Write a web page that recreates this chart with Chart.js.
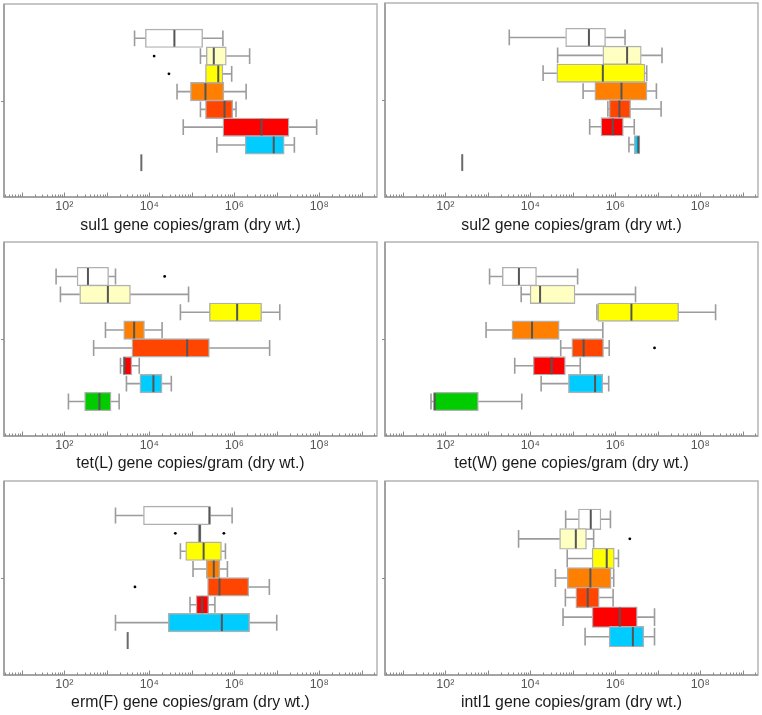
<!DOCTYPE html>
<html><head><meta charset="utf-8">
<script src="https://cdn.jsdelivr.net/npm/chart.js@4.4.1/dist/chart.umd.min.js"></script>
<style>
html,body{margin:0;padding:0;background:#fff;}
#wrap{position:relative;width:762px;height:715px;overflow:hidden;}
.p{position:absolute;width:381px;height:238px;}
canvas{display:block;}
</style></head><body>
<div id="wrap">
<div class="p" style="left:0;top:0"><canvas id="c0" width="381" height="238"></canvas></div>
<div class="p" style="left:381px;top:0"><canvas id="c1" width="381" height="238"></canvas></div>
<div class="p" style="left:0;top:238px"><canvas id="c2" width="381" height="238"></canvas></div>
<div class="p" style="left:381px;top:238px"><canvas id="c3" width="381" height="238"></canvas></div>
<div class="p" style="left:0;top:477px"><canvas id="c4" width="381" height="238"></canvas></div>
<div class="p" style="left:381px;top:477px"><canvas id="c5" width="381" height="238"></canvas></div>
</div>
<script>
// ---------- data ----------
const rowColors = ['#ffffff', '#ffffc2', '#ffff00', '#ff8000', '#ff4500', '#ff0000', '#00ccff', '#00cc00'];
const labeledTicks = [1e2, 1e4, 1e6, 1e8];
const tickLabels = ['10²', '10⁴', '10⁶', '10⁸'];

const sul1Low  = [4.5e3, 1.6e5, 2.1e5, 4.5e4, 1.6e5, 6.3e4, 3.9e5, 6.5e3];
const sul1Q1   = [8.1e3, 2.2e5, 2.1e5, 9.3e4, 2.1e5, 5.4e5, 1.8e6, 6.5e3];
const sul1Med  = [3.9e4, 3.3e5, 4.2e5, 2.1e5, 5.9e5, 4.4e6, 8.5e6, 6.5e3];
const sul1Q3   = [1.8e5, 6.5e5, 5.4e5, 5.7e5, 9.2e5, 1.95e7, 1.5e7, 6.5e3];
const sul1High = [5.4e5, 2.3e6, 8.7e5, 1.9e6, 1.1e6, 8.7e7, 2.6e7, 6.5e3];
const sul1OutX = [1.3e4, 2.9e4];
const sul1OutRow = [2, 3];

const sul2Low  = [3.2e3, 4.4e4, 2.0e4, 1.75e5, 6.7e5, 2.5e5, 2.1e6, 2.5e2];
const sul2Q1   = [6.8e4, 5.1e5, 4.2e4, 3.3e5, 7.2e5, 4.6e5, 2.8e6, 2.5e2];
const sul2Med  = [2.4e5, 1.9e6, 5.1e5, 1.4e6, 1.25e6, 8.7e5, 3.5e6, 2.5e2];
const sul2Q3   = [5.9e5, 4.1e6, 5.0e6, 5.6e6, 2.3e6, 1.55e6, 3.8e6, 2.5e2];
const sul2High = [1.7e6, 1.26e7, 5.5e6, 9.3e6, 1.2e7, 2.8e6, 3.8e6, 2.5e2];
const sul2OutX = [];
const sul2OutRow = [];

const tetLLow  = [64, 81, 5.4e4, 930, 490, 2.1e3, 2.9e3, 125];
const tetLQ1   = [200, 230, 2.6e5, 2.5e3, 3.9e3, 2.4e3, 6.0e3, 300];
const tetLMed  = [360, 1.06e3, 1.17e6, 4.4e3, 7.8e4, 2.6e3, 1.25e4, 670];
const tetLQ3   = [1.1e3, 3.6e3, 4.4e6, 7.7e3, 2.6e5, 3.9e3, 2.0e4, 1.26e3];
const tetLHigh = [1.6e3, 8.4e4, 1.18e7, 2.0e4, 6.8e6, 5.8e3, 3.3e4, 1.95e3];
const tetLOutX = [2.3e4];
const tetLOutRow = [1];

const tetWLow  = [1.1e3, 6.1e3, 3.7e5, 910, 5.2e4, 4.3e3, 1.8e4, 46];
const tetWQ1   = [2.2e3, 9.9e3, 3.9e5, 3.7e3, 9.5e4, 1.17e4, 7.9e4, 53];
const tetWMed  = [5.4e3, 1.7e4, 2.4e6, 1.1e4, 1.8e5, 3.2e4, 3.35e5, 56];
const tetWQ3   = [1.4e4, 1.13e5, 3.1e7, 4.8e4, 5.3e5, 6.7e4, 5.1e5, 600];
const tetWHigh = [1.3e5, 3.0e6, 2.3e8, 5.1e5, 7.2e5, 1.5e5, 7.0e5, 6.3e3];
const tetWOutX = [8.4e6];
const tetWOutRow = [5];

const ermFLow  = [1.6e3, 1.4e5, 5.4e4, 1.07e5, 2.35e5, 9.1e4, 1.6e3, 3.1e3];
const ermFQ1   = [7.3e3, 1.4e5, 7.2e4, 2.2e5, 2.35e5, 1.26e5, 2.8e4, 3.1e3];
const ermFMed  = [2.6e5, 1.55e5, 1.9e5, 3.3e5, 4.5e5, 1.75e5, 5.1e5, 3.1e3];
const ermFQ3   = [2.75e5, 1.66e5, 5.0e5, 4.6e5, 2.2e6, 2.5e5, 2.3e6, 3.1e3];
const ermFHigh = [8.9e5, 1.66e5, 6.2e5, 6.9e5, 6.7e6, 3.5e5, 1.0e7, 3.1e3];
const ermFOutX = [4.1e4, 5.7e5, 4.6e3];
const ermFOutRow = [2, 2, 5];

const intI1Low  = [6.8e4, 5.3e3, 7.4e4, 3.9e4, 6.7e4, 5.9e4, 1.95e5];
const intI1Q1   = [1.36e5, 4.9e4, 2.85e5, 7.4e4, 1.18e5, 2.85e5, 7.2e5];
const intI1Med  = [2.65e5, 1.18e5, 6.3e5, 2.6e5, 2.25e5, 1.28e6, 2.6e6];
const intI1Q3   = [4.6e5, 2.1e5, 9.5e5, 8.0e5, 4.2e5, 3.3e6, 4.7e6];
const intI1High = [7.7e5, 3.1e5, 1.19e6, 9.2e5, 8.9e5, 8.4e6, 8.4e6];
const intI1OutX = [2.2e6];
const intI1OutRow = [2];

// ---------- axis structure ----------
const X_MIN = Math.pow(10, 0.58), X_MAX = Math.pow(10, 9.36);
const xTickValues = [];
for (let e = 0; e <= 9; e++) for (let m = 1; m <= 9; m++) {
  const v = m * Math.pow(10, e);
  if (v >= X_MIN && v <= X_MAX) xTickValues.push(v);
}
const isDecade = v => Math.abs(Math.log10(v) - Math.round(Math.log10(v))) < 1e-9;
const FONT = 'Liberation Sans, Arial, DejaVu Sans, sans-serif';

function makePlugin(d) {
  return {
    id: 'boxplot',
    afterDatasetsDraw(chart) {
      const {ctx, scales: {x, y}} = chart;
      const bars = chart.getDatasetMeta(0).data;
      ctx.save();
      for (let i = 0; i < d.q1.length; i++) {
        const yc = y.getPixelForValue(i + 1);
        const h = bars[i].height;
        const xl = x.getPixelForValue(d.low[i]), x1 = x.getPixelForValue(d.q1[i]);
        const x3 = x.getPixelForValue(d.q3[i]), xh = x.getPixelForValue(d.high[i]);
        const xm = x.getPixelForValue(d.med[i]);
        ctx.strokeStyle = '#9c9c9c'; ctx.lineWidth = 1.6;
        const cap = h * 0.43;
        if (xl < x1 - 0.5) {
          ctx.beginPath(); ctx.moveTo(xl, yc); ctx.lineTo(x1, yc);
          ctx.moveTo(xl, yc - cap); ctx.lineTo(xl, yc + cap); ctx.stroke();
        }
        if (xh > x3 + 0.5) {
          ctx.beginPath(); ctx.moveTo(x3, yc); ctx.lineTo(xh, yc);
          ctx.moveTo(xh, yc - cap); ctx.lineTo(xh, yc + cap); ctx.stroke();
        }
        ctx.strokeStyle = (x3 - x1 < 0.5) ? '#6a6a6a' : '#555';
        ctx.lineWidth = 2;
        ctx.beginPath(); ctx.moveTo(xm, yc - h / 2 + 0.8); ctx.lineTo(xm, yc + h / 2 - 0.8); ctx.stroke();
      }
      ctx.restore();
    },
    afterDraw(chart) {
      const {ctx, chartArea: ca, scales: {x, y}} = chart;
      ctx.save();
      ctx.lineWidth = 1.5;
      ctx.strokeStyle = '#b4b4b4';
      ctx.strokeRect(ca.left, ca.top, ca.right - ca.left, ca.bottom - ca.top);
      ctx.strokeStyle = '#999';
      ctx.beginPath(); ctx.moveTo(ca.left, ca.top); ctx.lineTo(ca.left, ca.bottom); ctx.lineTo(ca.right, ca.bottom); ctx.stroke();
      ctx.lineWidth = 1; ctx.strokeStyle = '#8a8a8a';
      ctx.beginPath();
      x.ticks.forEach(t => {
        const px = Math.round(x.getPixelForValue(t.value)) + 0.5;
        ctx.moveTo(px, ca.bottom);
        ctx.lineTo(px, ca.bottom - (isDecade(t.value) ? 4.5 : 2.5));
      });
      const ym = Math.round(y.getPixelForValue((y.min + y.max) / 2)) + 0.5;
      ctx.moveTo(ca.left - 3, ym); ctx.lineTo(ca.left, ym);
      ctx.stroke();
      ctx.restore();
    }
  };
}

function makePanel(id, title, d, pad) {
  const n = d.q1.length;
  const rowPos = d.q1.map((_, i) => i + 1);
  const boxData = d.q1.map((q, i) => ({y: rowPos[i], x: [q, d.q3[i]]}));
  const outData = d.outX.map((v, i) => ({x: v, y: d.outRow[i]}));
  const yMin = -0.25, yMax = n + 1.25;
  const thick = 0.9 * (pad.bottom - pad.top) / (yMax - yMin);
  new Chart(document.getElementById(id), {
    type: 'bar',
    data: {
      datasets: [
        {type: 'bar', data: boxData, backgroundColor: rowColors.slice(0, n), borderColor: '#b0b0b0',
         borderWidth: 1.4, borderSkipped: false, barThickness: thick},
        {type: 'scatter', data: outData, pointRadius: 1.4, pointBackgroundColor: '#000', pointBorderWidth: 0}
      ]
    },
    options: {
      indexAxis: 'y', responsive: false, animation: false,
      layout: {padding: {left: pad.left, right: pad.right, top: pad.top, bottom: 0}},
      plugins: {legend: {display: false}, tooltip: {enabled: false}},
      scales: {
        x: {
          type: 'logarithmic', min: X_MIN, max: X_MAX,
          afterBuildTicks: s => { s.ticks = xTickValues.map(v => ({value: v})); },
          afterFit: s => { s.height = 238 - pad.bottom; },
          grid: {display: false, drawTicks: false},
          border: {display: false},
          ticks: {
            autoSkip: false, maxRotation: 0, minRotation: 0, padding: 2.5, color: '#555',
            font: {family: FONT, size: 12.5},
            callback: v => {
              const k = labeledTicks.findIndex(t => Math.abs(Math.log10(t) - Math.log10(v)) < 1e-6);
              return k >= 0 ? tickLabels[k] : '';
            }
          },
          title: {display: true, text: title, color: '#1a1a1a', font: {family: FONT, size: 15.8}, padding: {top: 0, bottom: 2.5}}
        },
        y: {
          type: 'linear', min: yMin, max: yMax, reverse: true, display: false,
          afterBuildTicks: s => { s.ticks = rowPos.map(v => ({value: v})); }
        }
      }
    },
    plugins: [makePlugin(d)]
  });
}

const L = {left: 3, right: 4}, R = {left: 4, right: 4};
makePanel('c0', 'sul1 gene copies/gram (dry wt.)',
  {low: sul1Low, q1: sul1Q1, med: sul1Med, q3: sul1Q3, high: sul1High, outX: sul1OutX, outRow: sul1OutRow},
  {...L, top: 3, bottom: 197});
makePanel('c1', 'sul2 gene copies/gram (dry wt.)',
  {low: sul2Low, q1: sul2Q1, med: sul2Med, q3: sul2Q3, high: sul2High, outX: sul2OutX, outRow: sul2OutRow},
  {...R, top: 3, bottom: 197});
makePanel('c2', 'tet(L) gene copies/gram (dry wt.)',
  {low: tetLLow, q1: tetLQ1, med: tetLMed, q3: tetLQ3, high: tetLHigh, outX: tetLOutX, outRow: tetLOutRow},
  {...L, top: 3, bottom: 198});
makePanel('c3', 'tet(W) gene copies/gram (dry wt.)',
  {low: tetWLow, q1: tetWQ1, med: tetWMed, q3: tetWQ3, high: tetWHigh, outX: tetWOutX, outRow: tetWOutRow},
  {...R, top: 3, bottom: 198});
makePanel('c4', 'erm(F) gene copies/gram (dry wt.)',
  {low: ermFLow, q1: ermFQ1, med: ermFMed, q3: ermFQ3, high: ermFHigh, outX: ermFOutX, outRow: ermFOutRow},
  {...L, top: 2.5, bottom: 198});
makePanel('c5', 'intI1 gene copies/gram (dry wt.)',
  {low: intI1Low, q1: intI1Q1, med: intI1Med, q3: intI1Q3, high: intI1High, outX: intI1OutX, outRow: intI1OutRow},
  {...R, top: 2.5, bottom: 198});
</script>
</body></html>
